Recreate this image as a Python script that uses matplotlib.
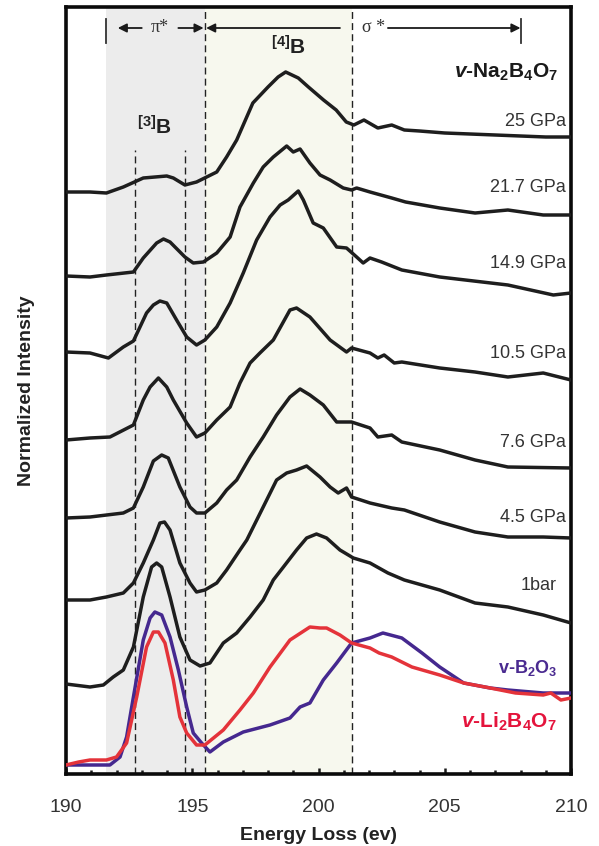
import numpy as np
import matplotlib
matplotlib.use("Agg")
import matplotlib.pyplot as plt

plt.rcParams['font.family'] = ['Liberation Sans', 'DejaVu Sans']
plt.rcParams['mathtext.fontset'] = 'custom'
plt.rcParams['mathtext.rm'] = 'Liberation Sans:bold'
plt.rcParams['mathtext.bf'] = 'Liberation Sans:bold'
plt.rcParams['mathtext.it'] = 'Liberation Sans:bold:italic'
plt.rcParams['mathtext.default'] = 'bf'

# spectra (energy in eV, stacked intensity in a.u.)
e_25 = [190, 190.95, 191.6, 192.27, 193.06, 193.99, 194.25, 194.71, 195.17, 195.97, 196.36, 196.76, 197.4, 198.0,
        198.4, 198.7, 199.2, 199.6, 200.2, 200.7, 201.1, 201.4, 201.8, 202.35, 202.9, 203.4, 204, 205, 206, 207,
        208, 209, 210]
i_25 = [582, 582, 581, 587, 596, 598, 596, 589, 592, 602, 617, 634, 671, 687, 697, 702, 696, 687, 674, 664,
        652, 649, 654, 646, 649, 644, 643, 641, 640, 639, 638, 637, 637]

e_217 = [190, 190.95, 191.6, 192.67, 193.06, 193.59, 193.86, 194.12, 194.71, 195.04, 195.44, 195.97, 196.5,
         196.89, 197.42, 197.81, 198.21, 198.74, 199.0, 199.27, 199.66, 200.06, 200.46, 200.98, 201.31, 201.51,
         202.04, 202.9, 203.45, 204.8, 206.2, 207.5, 208.9, 210]
i_217 = [498, 497, 499, 502, 516, 531, 535, 532, 517, 511, 512, 521, 537, 567, 591, 607, 617, 628, 622, 625,
         611, 599, 594, 586, 584, 586, 582, 576, 572, 566, 561, 564, 559, 559]

e_149 = [190, 190.95, 191.68, 192.27, 192.67, 193.19, 193.46, 193.72, 193.99, 194.38, 194.78, 195.17, 195.5,
         195.97, 196.5, 197.02, 197.55, 198.08, 198.48, 198.8, 199.2, 199.4, 199.79, 200.19, 200.72, 201.11,
         201.51, 201.77, 202.04, 202.5, 203.3, 204.8, 207.5, 209.3, 210]
i_149 = [422, 421, 416, 427, 433, 461, 469, 473, 471, 454, 437, 429, 434, 447, 471, 501, 534, 557, 569, 574,
         583, 574, 551, 546, 527, 526, 517, 511, 516, 512, 504, 497, 489, 479, 481]

e_105 = [190, 190.95, 191.74, 192.67, 193.06, 193.33, 193.66, 193.99, 194.25, 194.78, 195.17, 195.5, 195.97,
         196.5, 196.89, 197.29, 197.68, 198.21, 198.87, 199.13, 199.66, 200.46, 201.11, 201.31, 202.04, 202.35,
         202.6, 203.0, 203.3, 204.8, 206.2, 207.5, 208.9, 210]
i_105 = [334, 336, 337, 349, 374, 387, 396, 387, 374, 351, 337, 341, 354, 367, 391, 411, 421, 434, 464, 466,
         457, 434, 422, 426, 421, 416, 419, 411, 412, 406, 402, 397, 401, 394]

e_76 = [190, 190.95, 192.27, 192.67, 193.06, 193.46, 193.79, 194.05, 194.51, 194.91, 195.17, 195.5, 195.97,
        196.36, 196.76, 197.29, 197.81, 198.34, 198.87, 199.27, 199.66, 200.19, 200.72, 201.31, 202.04, 202.35,
        202.9, 203.3, 204.8, 206.2, 207.5, 210]
i_76 = [256, 257, 261, 266, 287, 313, 319, 316, 287, 267, 261, 261, 271, 284, 294, 317, 337, 359, 377, 385,
        379, 369, 352, 352, 346, 337, 339, 332, 324, 314, 307, 306]

e_45 = [190, 190.95, 191.6, 192.27, 192.67, 193.06, 193.46, 193.72, 193.9, 194.12, 194.51, 194.91, 195.17, 195.5,
        195.97, 196.36, 196.89, 197.16, 197.81, 198.34, 198.74, 199.13, 199.53, 200.06, 200.46, 200.78, 201.11,
        201.31, 202.04, 202.9, 203.4, 204.8, 206.2, 207.5, 208.9, 210]
i_45 = [174, 174, 177, 181, 191, 211, 234, 251, 252, 244, 211, 191, 182, 184, 191, 204, 224, 234, 267, 294,
        301, 304, 308, 297, 287, 281, 286, 277, 271, 266, 264, 252, 242, 237, 237, 236]

e_1bar = [190, 190.95, 191.48, 191.87, 192.27, 192.67, 193.06, 193.39, 193.59, 193.79, 194.12, 194.51, 194.91,
          195.31, 195.7, 196.23, 196.76, 197.29, 197.81, 198.21, 198.61, 199.13, 199.53, 199.92, 200.32, 200.85,
          201.38, 202.04, 202.75, 203.4, 204.8, 206.2, 207.5, 208.9, 210]
i_1bar = [90, 87, 89, 97, 104, 127, 177, 207, 211, 207, 177, 137, 114, 108, 111, 131, 141, 157, 174, 194,
          207, 224, 236, 240, 236, 224, 216, 211, 201, 194, 184, 171, 167, 159, 151]

e_b2o3 = [190, 190.95, 191.74, 192.14, 192.4, 192.67, 193.06, 193.33, 193.52, 193.79, 194.12, 194.45, 194.78,
          195.04, 195.37, 195.7, 196.23, 197.02, 198.08, 198.87, 199.27, 199.66, 200.19, 200.72, 201.31, 202.04,
          202.55, 203.3, 204.1, 204.8, 205.75, 206.8, 207.5, 208.9, 210]
i_b2o3 = [9, 9, 9, 17, 37, 77, 134, 156, 162, 159, 137, 104, 67, 41, 31, 22, 32, 42, 49, 56, 67, 71, 94, 111,
          131, 136, 141, 136, 121, 107, 91, 86, 84, 81, 81]

e_li = [190, 190.5, 190.95, 191.6, 192.0, 192.4, 192.8, 193.19, 193.46, 193.66, 193.92, 194.25, 194.51, 194.78,
        195.17, 195.5, 196.23, 196.89, 197.42, 198.08, 198.87, 199.66, 200.06, 200.32, 200.85, 201.31, 202.04,
        202.4, 202.9, 203.7, 204.8, 205.75, 206.8, 207.8, 208.9, 209.2, 209.6, 210]
i_li = [9, 12, 14, 14, 17, 31, 77, 127, 142, 142, 131, 94, 57, 41, 29, 29, 44, 64, 81, 107, 134, 147, 146, 146,
        139, 131, 126, 121, 117, 107, 99, 91, 86, 81, 79, 81, 74, 76]

pressures = ['25 GPa', '21.7 GPa', '14.9 GPa', '10.5 GPa', '7.6 GPa', '4.5 GPa', '1bar']
energies = [e_25, e_217, e_149, e_105, e_76, e_45, e_1bar]
intensities = [i_25, i_217, i_149, i_105, i_76, i_45, i_1bar]

# edges of the pi* / [4]B / sigma* regions
pi_lo, pi_hi, sig_hi = 191.6, 195.5, 201.33
b3_lines = [192.73, 194.72]
sig_end = 208.0

fig = plt.figure(figsize=(5.99, 8.46), dpi=100)
ax = fig.add_axes([66 / 599, 1 - 774 / 846, 505 / 599, 767 / 846])
ax.set_xlim(190, 210)
ax.set_ylim(0, 767)

ax.axvspan(pi_lo, pi_hi, color='#ececec', lw=0, zorder=0)
ax.axvspan(pi_hi, sig_hi, color='#f7f8ee', lw=0, zorder=0)
for xv in b3_lines:
    ax.plot([xv, xv], [0, 624], color='#222222', lw=1.0, ls=(0, (5, 3)), zorder=1)
for xv in [pi_hi, sig_hi]:
    ax.axvline(xv, color='#222222', lw=1.0, ls=(0, (5, 3)), zorder=1)

# stacked spectra
for e, i in zip(energies, intensities):
    ax.plot(e, i, color='#1e1e1e', lw=2.5, solid_joinstyle='round', solid_capstyle='round', zorder=3)
ax.plot(e_b2o3, i_b2o3, color='#45288f', lw=2.5, solid_joinstyle='round', zorder=4)
ax.plot(e_li, i_li, color='#e4333a', lw=2.5, solid_joinstyle='round', zorder=5)

# pressure labels
label_y = [652, 586, 511, 420, 332, 256, 188]
for lab, ly in zip(pressures, label_y):
    ax.text(209.8 if lab != '1bar' else 209.45, ly, lab, ha='right', va='center', fontsize=13, color='#333333')

ax.text(209.5, 702, r'$\mathit{v}$-Na$_{2}$B$_{4}$O$_{7}$', ha='right', va='center', fontsize=15,
        fontweight='bold', color='#1a1a1a')
ax.text(209.45, 106, r'v-B$_{2}$O$_{3}$', ha='right', va='center', fontsize=13, fontweight='bold', color='#4a2a90')
ax.text(209.45, 52, r'$\mathit{v}$-Li$_{2}$B$_{4}$O$_{7}$', ha='right', va='center', fontsize=15,
        fontweight='bold', color='#e4143c')

ax.text(198.8, 727, r'$^{[4]}$B', ha='center', va='center', fontsize=15, fontweight='bold', color='#222222')
ax.text(193.5, 647, r'$^{[3]}$B', ha='center', va='center', fontsize=15, fontweight='bold', color='#222222')

# region arrows at the top
ya = 746
aprops = dict(arrowstyle='-|>', color='#1a1a1a', lw=1.3, mutation_scale=13, shrinkA=0, shrinkB=0)
ax.plot([pi_lo, pi_lo], [731, 755], color='#333333', lw=1.3)
ax.plot([sig_end, sig_end], [731, 755], color='#333333', lw=1.3)
ax.annotate('', xy=(192.05, ya), xytext=(193.0, ya), arrowprops=aprops)
ax.annotate('', xy=(195.45, ya), xytext=(194.45, ya), arrowprops=aprops)
ax.annotate('', xy=(195.55, ya), xytext=(200.85, ya), arrowprops=aprops)
ax.annotate('', xy=(sig_end, ya), xytext=(202.75, ya), arrowprops=aprops)
ax.text(193.7, ya, 'π*', ha='center', va='center', fontsize=13, family='Liberation Serif', color='#333333')
ax.text(202.2, ya, 'σ *', ha='center', va='center', fontsize=13, family='Liberation Serif', color='#333333')

ax.set_xticks([190, 195, 200, 205, 210])
ax.set_xticks(np.arange(190, 211, 1), minor=True)
ax.tick_params(axis='x', which='both', direction='in', width=1.8, labelsize=14, pad=18, top=False,
               colors='#1a1a1a', labelcolor='#333333')
ax.tick_params(axis='x', which='major', length=4)
ax.tick_params(axis='x', which='minor', length=3)
ax.set_yticks([])
for sp in ax.spines.values():
    sp.set_linewidth(2.6)
    sp.set_color('#0a0a0a')

ax.set_xlabel('Energy Loss (ev)', fontsize=14, fontweight='bold', color='#222222', labelpad=8)
fig.text(27 / 599, 1 - 391 / 846, 'Normalized Intensity', rotation=90, ha='center', va='center',
         fontsize=14, fontweight='bold', color='#222222')

fig.savefig('out.png', dpi=100)
